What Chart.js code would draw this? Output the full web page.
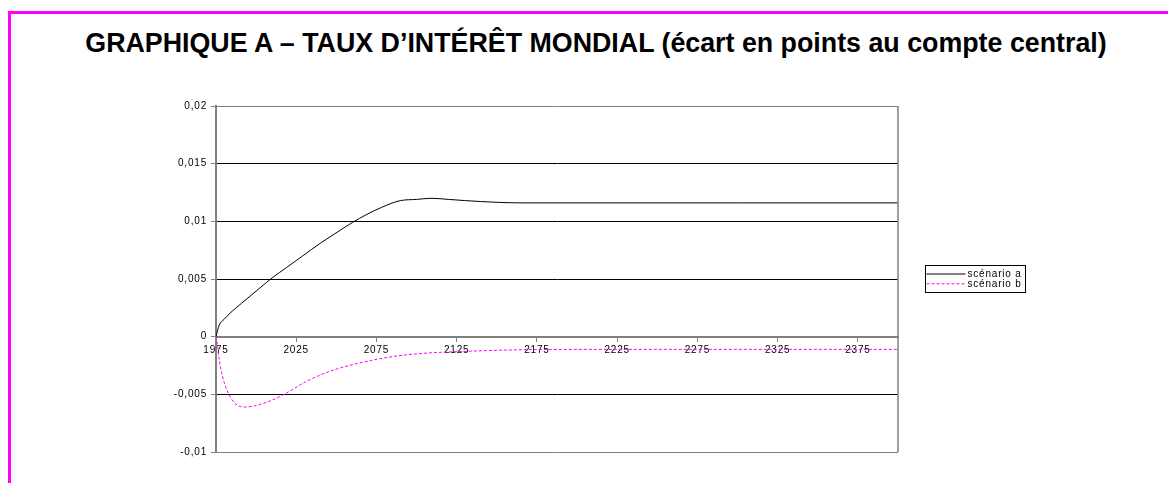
<!DOCTYPE html>
<html lang="fr">
<head>
<meta charset="utf-8">
<title>Taux d'intérêt mondial</title>
<script src="https://cdn.jsdelivr.net/npm/chart.js@4.4.0/dist/chart.umd.min.js"></script>
<style>
  html, body { margin: 0; padding: 0; background: #fff; overflow: hidden; }
  body { width: 1168px; height: 483px; position: relative; }
  #frame {
    position: absolute; left: 8px; top: 11px; width: 1300px; height: 600px;
    border-top: 3px solid #ff00ff; border-left: 3px solid #ff00ff;
  }
  #title {
    position: absolute; left: 0; top: 28px; width: 1192px; text-align: center;
    font: bold 26.8px "Liberation Sans", Arial, sans-serif; line-height: 31px;
    color: #000; white-space: nowrap;
  }
  #chart { position: absolute; left: 0; top: 0; }
</style>
</head>
<body>
<div id="frame"></div>
<div id="title">GRAPHIQUE A – TAUX D’INTÉRÊT MONDIAL (écart en points au compte central)</div>
<canvas id="chart" width="1168" height="483"></canvas>
<script>
// écart au compte central, scénario a
const yearsA = [1975, 1977, 1980, 1985, 1991, 1997, 2003, 2010, 2019, 2029, 2040, 2051, 2060,
  2069, 2078, 2090, 2100, 2109, 2120, 2130, 2150, 2165, 2200, 2300, 2400];
const scenarioA = [0, 0.0010, 0.0015, 0.0022, 0.0029, 0.0036, 0.0043, 0.0051, 0.0060, 0.0070,
  0.0081, 0.0091, 0.0099, 0.0106, 0.0112, 0.0118, 0.0119, 0.0120, 0.0119, 0.0118, 0.01165,
  0.0116, 0.0116, 0.0116, 0.0116];

// écart au compte central, scénario b
const yearsB = [1975, 1976, 1977, 1979, 1982, 1987, 1993, 1999, 2010, 2020, 2031, 2046, 2067,
  2088, 2109, 2125, 2146, 2175, 2250, 2325, 2400];
const scenarioB = [0, -0.0008, -0.0020, -0.0034, -0.0047, -0.0058, -0.0061, -0.0060, -0.0055,
  -0.0048, -0.0039, -0.0030, -0.0022, -0.00167, -0.0014, -0.0013, -0.0012, -0.00112,
  -0.0011, -0.0011, -0.0011];

const xTicks = [1975, 2025, 2075, 2125, 2175, 2225, 2275, 2325, 2375];
const yTicks = [-0.01, -0.005, 0, 0.005, 0.01, 0.015, 0.02];
const yTickLabels = ['-0,01', '-0,005', '0', '0,005', '0,01', '0,015', '0,02'];

const GREY = '#808080';
const TEXT = '#000';
const SMALL_FONT = '"Liberation Sans", Arial, sans-serif';

const toPoints = (xs, ys) => xs.map((x, i) => ({ x: x, y: ys[i] }));

// Excel-like spacing for the small labels, plus the plot frame and the boxed legend
const decorations = {
  id: 'decorations',
  beforeLayout(chart) { chart.ctx.letterSpacing = '0.8px'; },
  beforeDraw(chart) { chart.ctx.letterSpacing = '0.8px'; },
  afterDatasetsDraw(chart) {
    const { ctx, chartArea } = chart;
    ctx.save();
    ctx.strokeStyle = GREY;
    ctx.lineWidth = 1.5;
    ctx.beginPath();
    ctx.moveTo(chartArea.right, chartArea.top);
    ctx.lineTo(chartArea.right, chartArea.bottom);
    ctx.stroke();
    ctx.restore();
  },
  afterDraw(chart) {
    const { ctx, chartArea } = chart;
    const left = chartArea.right + 27.5;
    const top = 265.5;
    const width = 100;
    const height = 27;
    ctx.save();
    ctx.strokeStyle = '#000';
    ctx.lineWidth = 1;
    ctx.strokeRect(left, top, width, height);
    ctx.font = '10px ' + SMALL_FONT;
    ctx.letterSpacing = '0.8px';
    ctx.textBaseline = 'middle';
    ctx.fillStyle = TEXT;
    chart.data.datasets.forEach((ds, i) => {
      const y = top + 8.5 + i * 9.8;
      ctx.strokeStyle = ds.borderColor;
      ctx.lineWidth = 1;
      ctx.setLineDash(ds.borderDash || []);
      ctx.beginPath();
      ctx.moveTo(left + 1, y);
      ctx.lineTo(left + 40, y);
      ctx.stroke();
      ctx.setLineDash([]);
      ctx.fillText(ds.label, left + 42, y + 0.5);
    });
    ctx.restore();
  }
};

new Chart(document.getElementById('chart'), {
  type: 'line',
  data: {
    datasets: [
      {
        label: 'scénario a',
        data: toPoints(yearsA, scenarioA),
        borderColor: '#000000',
        borderWidth: 1,
        pointRadius: 0,
        cubicInterpolationMode: 'monotone'
      },
      {
        label: 'scénario b',
        data: toPoints(yearsB, scenarioB),
        borderColor: '#ff00ff',
        borderWidth: 1,
        borderDash: [3, 2],
        pointRadius: 0,
        cubicInterpolationMode: 'monotone'
      }
    ]
  },
  options: {
    responsive: false,
    animation: false,
    devicePixelRatio: 1,
    layout: { padding: { left: 160, right: 270, top: 106, bottom: 31 } },
    plugins: {
      legend: { display: false },
      title: { display: false },
      tooltip: { enabled: false }
    },
    scales: {
      x: {
        type: 'linear',
        position: { y: 0 },
        min: 1975,
        max: 2400,
        afterBuildTicks: (scale) => { scale.ticks = xTicks.map(v => ({ value: v })); },
        ticks: {
          color: TEXT,
          font: { family: SMALL_FONT, size: 10 },
          padding: 4,
          maxRotation: 0,
          autoSkip: false,
          callback: (value) => String(value)
        },
        grid: {
          display: true,
          drawOnChartArea: false,
          drawTicks: true,
          tickLength: 4,
          color: GREY,
          tickColor: GREY
        },
        border: { display: true, color: GREY, width: 2 }
      },
      y: {
        type: 'linear',
        min: -0.01,
        max: 0.02,
        afterBuildTicks: (scale) => { scale.ticks = yTicks.map(v => ({ value: v })); },
        afterFit: (scale) => { scale.width = 56; },
        ticks: {
          color: TEXT,
          font: { family: SMALL_FONT, size: 10 },
          padding: 4,
          callback: (value, index) => yTickLabels[index]
        },
        grid: {
          color: (ctx) => {
            const v = ctx.tick ? ctx.tick.value : null;
            return (v === 0 || v === 0.02 || v === -0.01) ? GREY : '#000000';
          },
          lineWidth: 1,
          drawTicks: true,
          tickLength: 5,
          tickColor: GREY
        },
        border: { display: true, color: GREY, width: 2 }
      }
    }
  },
  plugins: [decorations]
});
</script>
</body>
</html>
